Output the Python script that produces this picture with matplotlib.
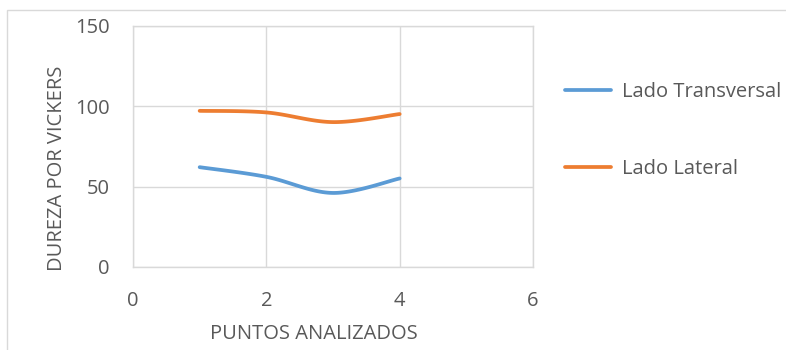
import numpy as np
import matplotlib.pyplot as plt
from matplotlib.patches import Rectangle

# Puntos medidos y dureza en cada lado
puntos = [1, 2, 3, 4]
transversal = [62, 56, 46, 55]
lateral = [97, 96, 90, 95]
series = ["Lado Transversal", "Lado Lateral"]
colores = ["#5B9BD5", "#ED7D31"]

plt.rcParams['font.family'] = ['Open Sans', 'DejaVu Sans']
gris = "#595959"


def suavizar(x, y, n=40):
    # curva suave tipo Catmull-Rom entre los puntos
    x = np.asarray(x, float)
    y = np.asarray(y, float)
    px = np.concatenate([[x[0]], x, [x[-1]]])
    py = np.concatenate([[y[0]], y, [y[-1]]])
    xs, ys = [], []
    for i in range(1, len(px) - 2):
        p0 = np.array([px[i], py[i]])
        p3 = np.array([px[i + 1], py[i + 1]])
        c1 = p0 + (np.array([px[i + 1], py[i + 1]]) - np.array([px[i - 1], py[i - 1]])) / 6
        c2 = p3 - (np.array([px[i + 2], py[i + 2]]) - np.array([px[i], py[i]])) / 6
        t = np.linspace(0, 1, n)[:, None]
        b = ((1 - t) ** 3) * p0 + 3 * ((1 - t) ** 2) * t * c1 + 3 * (1 - t) * t ** 2 * c2 + t ** 3 * p3
        xs.extend(b[:, 0])
        ys.extend(b[:, 1])
    return xs, ys


fig = plt.figure(figsize=(7.86, 3.5), dpi=100)
fig.patches.append(Rectangle((7 / 786, -0.1), 1.2, 1 - 10 / 350 + 0.1,
                             transform=fig.transFigure, fill=False,
                             edgecolor="#d9d9d9", linewidth=1))
ax = fig.add_axes([133 / 786, 1 - 267 / 350, 400 / 786, 241.5 / 350])

for nombre, vals, c in zip(series, [transversal, lateral], colores):
    sx, sy = suavizar(puntos, vals)
    ax.plot(sx, sy, color=c, linewidth=2.7, solid_capstyle="round", label=nombre)

ax.set_xlim(0, 6)
ax.set_ylim(0, 150)
ax.set_xticks([0, 2, 4, 6])
ax.set_yticks([0, 50, 100, 150])
ax.grid(True, color="#d9d9d9", linewidth=1)
ax.set_axisbelow(True)
for s in ax.spines.values():
    s.set_color("#d9d9d9")
    s.set_linewidth(1)
ax.tick_params(length=0, labelsize=14.5, colors=gris)
ax.tick_params(axis="y", pad=17)
ax.tick_params(axis="x", pad=17)

ax.set_xlabel("PUNTOS ANALIZADOS", fontsize=14.5, color=gris)
ax.set_ylabel("DUREZA POR VICKERS", fontsize=14.5, color=gris)
ax.xaxis.set_label_coords(0.4525, -0.235)
ax.yaxis.set_label_coords(-0.166, 0.41)

ax.legend(loc="upper left", bbox_to_anchor=(1.035, 0.84), frameon=False,
          fontsize=14.5, labelcolor=gris, handlelength=2.3, handletextpad=0.5,
          labelspacing=2.8)

fig.savefig("out.png", dpi=100)
